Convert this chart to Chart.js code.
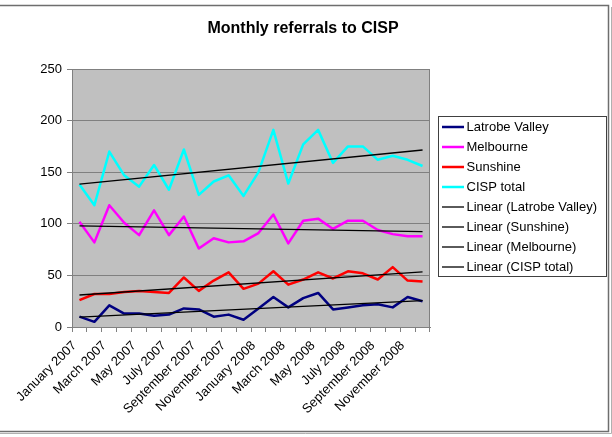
<!DOCTYPE html>
<html>
<head>
<meta charset="utf-8">
<script src="https://cdn.jsdelivr.net/npm/chart.js@4/dist/chart.umd.min.js"></script>
<style>
  html, body { margin: 0; padding: 0; background: #fff; }
  #wrap { width: 612px; height: 437px; position: relative; }
</style>
</head>
<body>
<div id="wrap"><canvas id="c" width="612" height="437"></canvas></div>
<script>
const titleText = "Monthly referrals to CISP";
const months = [
  "January 2007","February 2007","March 2007","April 2007","May 2007","June 2007",
  "July 2007","August 2007","September 2007","October 2007","November 2007","December 2007",
  "January 2008","February 2008","March 2008","April 2008","May 2008","June 2008",
  "July 2008","August 2008","September 2008","October 2008","November 2008","December 2008"
];
const yTicks = [0, 50, 100, 150, 200, 250];

const latrobeValley = [10,5,21,13,13,11,12,18,17,10,12,7, 18,29,19,28,33,17,19,21,22,19,29,25];
const melbourne     = [102,82,118,101,89,113,89,107,76,86,82,83, 91,109,81,103,105,95,103,103,94,90,88,88];
const sunshine      = [26,32,32,34,35,34,33,48,35,45,53,37, 42,54,41,46,53,47,54,52,46,58,45,44];
const cispTotal     = [138,118,170,147,136,157,133,172,128,141,147,127, 150,191,139,177,191,159,175,175,162,166,162,156];

// trendline start/end values
const trendLatrobe   = [9.5, 25.5];
const trendSunshine  = [31, 53.5];
const trendMelbourne = [98, 92.5];
const trendCisp      = [138.5, 171.5];

const seriesNames = ["Latrobe Valley","Melbourne","Sunshine","CISP total",
  "Linear (Latrobe Valley)","Linear (Sunshine)","Linear (Melbourne)","Linear (CISP total)"];
const seriesColors = ["#000080","#FF00FF","#FF0000","#00FFFF","#000000","#000000","#000000","#000000"];

function trendPoints(t) {
  return [{x: months[0], y: t[0]}, {x: months[months.length - 1], y: t[1]}];
}

const dataSets = [latrobeValley, melbourne, sunshine, cispTotal];
const trendSets = [trendLatrobe, trendSunshine, trendMelbourne, trendCisp];

const datasets = [];
dataSets.forEach((d, i) => {
  datasets.push({
    label: seriesNames[i], data: d, borderColor: seriesColors[i], backgroundColor: seriesColors[i],
    borderWidth: 2.5, pointRadius: 0, tension: 0, order: 2, borderJoinStyle: 'round'
  });
});
trendSets.forEach((t, i) => {
  datasets.push({
    label: seriesNames[4 + i], data: trendPoints(t), borderColor: '#000000', backgroundColor: '#000000',
    borderWidth: 1.3, pointRadius: 0, tension: 0, order: 1
  });
});

const FONT = '"Liberation Sans", Arial, sans-serif';

const bgPlugin = {
  id: 'bgPlugin',
  beforeDraw(chart) {
    const ctx = chart.ctx, a = chart.chartArea;
    ctx.save();
    ctx.fillStyle = '#ffffff';
    ctx.fillRect(0, 0, chart.width, chart.height);
    ctx.fillStyle = '#C0C0C0';
    ctx.fillRect(a.left, a.top, a.right - a.left, a.bottom - a.top);
    ctx.restore();
  },
  afterDraw(chart) {
    const ctx = chart.ctx, a = chart.chartArea;
    ctx.save();
    // plot border
    ctx.strokeStyle = '#808080';
    ctx.lineWidth = 1;
    ctx.strokeRect(a.left + 0.5, a.top + 0.5, a.right - a.left - 1, a.bottom - a.top);
    // outer chart border
    ctx.strokeStyle = '#6e6e6e';
    ctx.lineWidth = 1.5;
    ctx.strokeRect(-3, 5.5, 611.5, 426);
    ctx.strokeStyle = '#b0b0b0';
    ctx.lineWidth = 1;
    ctx.beginPath();
    ctx.moveTo(0, 433.5); ctx.lineTo(611.5, 433.5); ctx.lineTo(611.5, 7);
    ctx.stroke();
    // title
    ctx.fillStyle = '#000000';
    ctx.font = 'bold 16px ' + FONT;
    ctx.textAlign = 'center';
    ctx.textBaseline = 'middle';
    ctx.fillText(titleText, 303, 28.5);
    // legend
    const lx = 438.5, ly = 116.5, lw = 168, lh = 160;
    ctx.fillStyle = '#ffffff';
    ctx.fillRect(lx, ly, lw, lh);
    ctx.strokeStyle = '#404040';
    ctx.lineWidth = 1;
    ctx.strokeRect(lx, ly, lw, lh);
    ctx.font = '13px ' + FONT;
    ctx.textBaseline = 'middle';
    ctx.textAlign = 'left';
    seriesNames.forEach((name, i) => {
      const y = 127 + i * 20;
      ctx.strokeStyle = seriesColors[i];
      ctx.lineWidth = i < 4 ? 2.5 : 1.3;
      ctx.beginPath();
      ctx.moveTo(442, y); ctx.lineTo(464, y);
      ctx.stroke();
      ctx.fillStyle = '#000000';
      ctx.fillText(name, 466.5, y);
    });
    ctx.restore();
  }
};

new Chart(document.getElementById('c'), {
  type: 'line',
  data: { labels: months, datasets },
  options: {
    responsive: false,
    animation: false,
    devicePixelRatio: 1,
    layout: { padding: { top: 69, right: 182, bottom: 0, left: 0 } },
    plugins: {
      legend: { display: false },
      tooltip: { enabled: false },
      title: { display: false }
    },
    scales: {
      x: {
        type: 'category',
        offset: true,
        grid: { offset: true, drawOnChartArea: false, drawTicks: true, tickLength: 5, color: '#808080' },
        border: { display: true, color: '#808080' },
        ticks: {
          autoSkip: false, maxRotation: 45, minRotation: 45, padding: 6, labelOffset: -5, color: '#000000',
          font: { family: FONT, size: 13 },
          callback: function(v, i) { return i % 2 === 0 ? months[i] : ''; }
        },
        afterFit(scale) { scale.height = 110; }
      },
      y: {
        min: 0, max: 250,
        afterBuildTicks(scale) { scale.ticks = yTicks.map(v => ({ value: v })); },
        grid: { color: '#808080', drawTicks: true, tickLength: 5 },
        border: { display: true, color: '#808080' },
        ticks: {
          padding: 5, color: '#000000',
          font: { family: FONT, size: 13 }
        },
        afterFit(scale) { scale.width = 72; }
      }
    }
  },
  plugins: [bgPlugin]
});
</script>
</body>
</html>
